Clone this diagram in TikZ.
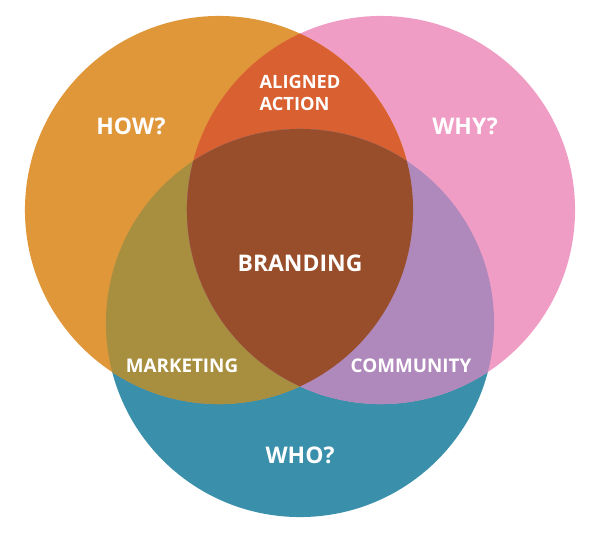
\documentclass[tikz,border=0pt]{standalone}
\usepackage{fontspec}
\setmainfont{Open Sans}
\definecolor{howcol}{HTML}{E0973A}
\definecolor{whycol}{HTML}{EF9DC4}
\definecolor{whocol}{HTML}{3A8FAA}
\definecolor{actioncol}{HTML}{D96030}
\definecolor{marketcol}{HTML}{A88F40}
\definecolor{commcol}{HTML}{AF88BC}
\definecolor{brandcol}{HTML}{984E2B}
\tikzset{
lbl/.style={text=white,font=\bfseries\fontsize{#1}{#1}\selectfont,align=left,inner sep=0pt},
}
\begin{document}
\begin{tikzpicture}[x=0.025cm,y=-0.025cm]
\useasboundingbox (0,0) rectangle (600,533);
\def\rad{4.85cm}
\coordinate (how) at (219,210);
\coordinate (why) at (381,210);
\coordinate (who) at (300,323);
\fill[whocol] (who) circle (\rad);
\fill[whycol] (why) circle (\rad);
\fill[howcol] (how) circle (\rad);
\begin{scope}
\clip (how) circle (\rad);
\fill[actioncol] (why) circle (\rad);
\fill[marketcol] (who) circle (\rad);
\clip (why) circle (\rad);
\fill[brandcol] (who) circle (\rad);
\end{scope}
\begin{scope}
\clip (why) circle (\rad);
\begin{scope}
\clip (who) circle (\rad);
\fill[commcol] (why) circle (\rad);
\clip (how) circle (\rad);
\fill[brandcol] (who) circle (\rad);
\end{scope}
\end{scope}
\node[lbl=16.3] (howlbl) at (131,126) {HOW?};
\node[lbl=16.3] (whylbl) at (465,126) {WHY?};
\node[lbl=16.3] (wholbl) at (300,455) {WHO?};
\node[lbl=16.3] (brandlbl) at (300,263) {BRANDING};
\node[lbl=13] (actlbl) at (300,93) {ALIGNED\\[2.6pt]ACTION};
\node[lbl=13.4] (marketlbl) at (182,366) {MARKETING};
\node[lbl=13.4] (commlbl) at (411,366) {COMMUNITY};
\end{tikzpicture}
\end{document}
